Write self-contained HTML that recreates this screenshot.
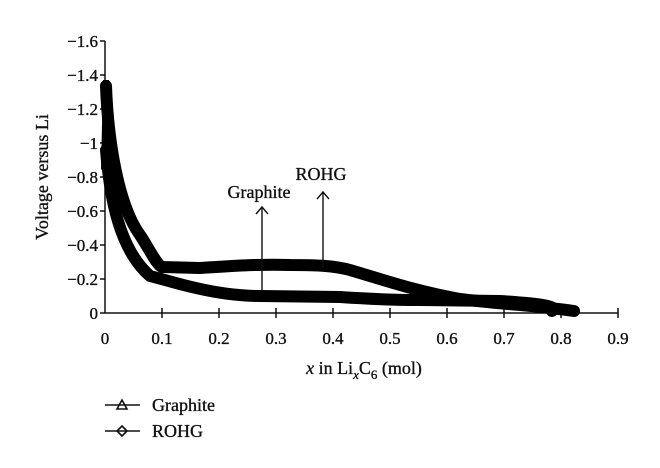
<!DOCTYPE html>
<html><head><style>body{margin:0;background:#fff}svg{display:block}text{font-family:"Liberation Serif",serif;fill:#111;stroke:#111;stroke-width:0.35}</style></head><body>
<svg width="660" height="468" viewBox="0 0 660 468" xmlns="http://www.w3.org/2000/svg">
<g stroke="#111" stroke-width="1.5" fill="none">
<line x1="105" y1="41" x2="105" y2="313"/>
<line x1="105" y1="313" x2="618" y2="313"/>
<line x1="100" y1="41" x2="105" y2="41"/><line x1="100" y1="75" x2="105" y2="75"/><line x1="100" y1="109" x2="105" y2="109"/><line x1="100" y1="143" x2="105" y2="143"/><line x1="100" y1="177" x2="105" y2="177"/><line x1="100" y1="211" x2="105" y2="211"/><line x1="100" y1="245" x2="105" y2="245"/><line x1="100" y1="279" x2="105" y2="279"/><line x1="100" y1="313" x2="105" y2="313"/>
<line x1="162" y1="308" x2="162" y2="318"/><line x1="219" y1="308" x2="219" y2="318"/><line x1="276" y1="308" x2="276" y2="318"/><line x1="333" y1="308" x2="333" y2="318"/><line x1="390" y1="308" x2="390" y2="318"/><line x1="447" y1="308" x2="447" y2="318"/><line x1="504" y1="308" x2="504" y2="318"/><line x1="561" y1="308" x2="561" y2="318"/><line x1="618" y1="308" x2="618" y2="318"/>
</g>
<g font-size="17" text-anchor="end">
<text x="98" y="47">−1.6</text><text x="98" y="81">−1.4</text><text x="98" y="115">−1.2</text><text x="98" y="149">−1</text><text x="98" y="183">−0.8</text><text x="98" y="217">−0.6</text><text x="98" y="251">−0.4</text><text x="98" y="285">−0.2</text><text x="98" y="319">0</text>
</g>
<g font-size="17" text-anchor="middle">
<text x="105" y="344">0</text><text x="162" y="344">0.1</text><text x="219" y="344">0.2</text><text x="276" y="344">0.3</text><text x="333" y="344">0.4</text><text x="390" y="344">0.5</text><text x="447" y="344">0.6</text><text x="504" y="344">0.7</text><text x="561" y="344">0.8</text><text x="618" y="344">0.9</text>
</g>
<text x="364" y="374" font-size="18" text-anchor="middle"><tspan font-style="italic">x</tspan> in Li<tspan font-style="italic" font-size="13" dy="5">x</tspan><tspan dy="-5">C</tspan><tspan font-size="13" dy="5">6</tspan><tspan dy="-5"> (mol)</tspan></text>
<text transform="translate(48,177) rotate(-90)" font-size="18" text-anchor="middle">Voltage versus Li</text>
<g fill="none" stroke="#000" stroke-width="12" stroke-linejoin="round" stroke-linecap="round">
<path d="M106,86 C108,140 118,205 140,235 C150,250 156,264 162,267 L200,268 C230,266 260,264 290,265 C320,265 335,266 350,270 C390,282 420,292 460,299 C500,304 540,306 574,311"/>
<path d="M106,150 C110,200 120,250 150,276 L165,280 C200,290 230,296 260,296 L340,297 C370,299 390,300 420,300 L500,301 C530,303 560,305 552,311"/>
</g>
<path d="M103,80 L109,80 L112,160 L101,170 Z" fill="#000"/>
<g stroke="#111" stroke-width="1.4" fill="none">
<line x1="262" y1="290" x2="262" y2="207"/><path d="M256,214 L262,207 L268,214"/>
<line x1="323" y1="268" x2="323" y2="192"/><path d="M317,199 L323,192 L329,199"/>
</g>
<text x="259" y="198" font-size="18" text-anchor="middle">Graphite</text>
<text x="321" y="180" font-size="18" text-anchor="middle">ROHG</text>
<g stroke="#111" stroke-width="1.6" fill="none">
<line x1="105" y1="405" x2="140" y2="405"/><path d="M117,409 L122,400 L127,409 Z"/>
<line x1="105" y1="431" x2="140" y2="431"/><path d="M122,426 L127,431 L122,436 L117,431 Z"/>
</g>
<text x="152" y="411" font-size="18">Graphite</text>
<text x="152" y="437" font-size="18">ROHG</text>
</svg>
</body></html>
